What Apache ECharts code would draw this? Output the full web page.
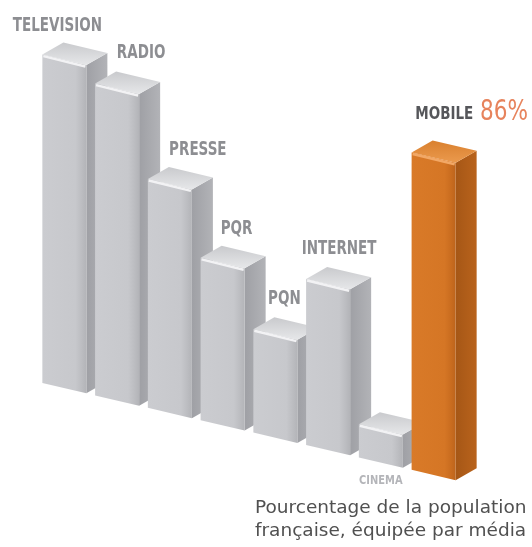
<!DOCTYPE html>
<html>
<head>
<meta charset="utf-8">
<script src="https://cdn.jsdelivr.net/npm/echarts@6/dist/echarts.min.js"></script>
<style>
html,body{margin:0;padding:0;background:#fff;}
#chart{width:532px;height:547px;}
</style>
</head>
<body>
<div id="chart"></div>
<script>
// ---- data ----
const categories = ['TELEVISION', 'RADIO', 'PRESSE', 'PQR', 'PQN', 'INTERNET', 'CINEMA', 'MOBILE'];
const values = [89, 84.5, 62, 44, 28, 45, 9, 86];
const valueLabels = ['', '', '', '', '', '', '', '86%'];
const highlighted = 'MOBILE';
const captionLines = ['Pourcentage de la population', 'française, équipée par média'];

// ---- layout / style (not data) ----
const SLOPE = 0.235;           // perspective slant of the floor
const DEPTH = [21, -12];       // depth vector of the 3D boxes
const FRONT_RATIO = 0.835;
// label anchor offsets relative to front-top-left corner (or base for 'below')
const labelNudge = [[15, -29], [46, -31], [50, -29], [36, -29], [31, -30], [33, -30], [22, 23, 'below'], [60, -40]];

const G = echarts.graphic;
const grayStyle = {
  front: new G.LinearGradient(0, 0, 1, 0, [
    {offset: 0, color: '#cbccd0'}, {offset: 0.75, color: '#c7c8cc'}, {offset: 0.88, color: '#bdbec2'}, {offset: 1, color: '#b3b4b8'}]),
  side: new G.LinearGradient(0, 0, 1, 0, [
    {offset: 0, color: '#9fa0a5'}, {offset: 1, color: '#b2b3b7'}]),
  top: new G.LinearGradient(0, 1, 0, 0, [
    {offset: 0, color: '#e6e7e9'}, {offset: 1, color: '#c9cacd'}]),
  edge: '#f2f2f4',
  label: '#8d8e92'
};
const orangeStyle = {
  front: new G.LinearGradient(0, 0, 1, 0, [
    {offset: 0, color: '#d97a28'}, {offset: 0.75, color: '#d57625'}, {offset: 0.9, color: '#c96c1f'}, {offset: 1, color: '#bd641c'}]),
  side: new G.LinearGradient(0, 0, 1, 0, [
    {offset: 0, color: '#a65716'}, {offset: 1, color: '#b9631c'}]),
  top: new G.LinearGradient(0, 1, 0, 0, [
    {offset: 0, color: '#eb9a4e'}, {offset: 1, color: '#d9802e'}]),
  edge: '#f2a866',
  label: '#55565a'
};
const labelFont = "'Liberation Sans Narrow', 'DejaVu Sans Condensed', sans-serif";

const chart = echarts.init(document.getElementById('chart'), null, {renderer: 'canvas'});

function renderItem(params, api) {
  const i = api.value(0);
  const v = api.value(1);
  const base = api.coord([i, 0]);
  const top = api.coord([i, v]);
  const band = api.size([1, 0])[0];
  const W = band * FRONT_RATIO;
  const xL = base[0] - W / 2, xR = xL + W;
  const ox = params.coordSys.x;
  const P = (x, y) => [x, y + SLOPE * (x - ox)];
  const yB = base[1], yT = top[1];
  const fLT = P(xL, yT), fRT = P(xR, yT), fRB = P(xR, yB), fLB = P(xL, yB);
  const D = (p) => [p[0] + DEPTH[0], p[1] + DEPTH[1]];
  const st = categories[i] === highlighted ? orangeStyle : grayStyle;

  const children = [
    {type: 'polygon', shape: {points: [fRT, D(fRT), D(fRB), fRB]}, style: {fill: st.side}},
    {type: 'polygon', shape: {points: [fLT, fRT, fRB, fLB]}, style: {fill: st.front}},
    {type: 'polygon', shape: {points: [fLT, D(fLT), D(fRT), fRT]}, style: {fill: st.top}},
    {type: 'polyline', shape: {points: [[fLT[0] + 1, fLT[1] + 1.5], [fRT[0] - 1, fRT[1] + 1.5]]},
      style: {stroke: st.edge, lineWidth: 2.5, fill: null}}
  ];

  const nudge = labelNudge[i];
  let lx, ly;
  if (nudge[2] === 'below') { lx = fLB[0] + nudge[0]; ly = fLB[1] + nudge[1]; }
  else { lx = fLT[0] + nudge[0]; ly = fLT[1] + nudge[1]; }
  const vl = valueLabels[i];
  if (categories[i] === highlighted) {
    children.push({
      type: 'text', x: lx, y: ly, scaleY: 1.2,
      style: {
        text: '{a|' + categories[i] + '}  {b|' + vl + '}',
        align: 'center', verticalAlign: 'middle',
        rich: {
          a: {fontFamily: labelFont, fontWeight: 'bold', fontSize: 15, fill: '#55565a', padding: [3, 0, 0, 0]},
          b: {fontFamily: labelFont, fontSize: 24, fill: '#e7835c'}
        }
      }
    });
  } else {
    const below = nudge[2] === 'below';
    children.push({
      type: 'text', x: lx, y: ly, scaleY: below ? 1.1 : 1.3,
      style: {
        text: categories[i], align: 'center', verticalAlign: 'middle',
        fontFamily: labelFont, fontWeight: 'bold',
        fontSize: below ? 11 : 15,
        fill: below ? '#b4b5b9' : st.label
      }
    });
  }
  return {type: 'group', children};
}

chart.setOption({
  animation: false,
  backgroundColor: '#ffffff',
  grid: {left: 38, top: 13, width: 422, height: 369},
  xAxis: {type: 'category', data: categories, show: false},
  yAxis: {type: 'value', min: 0, max: 100, show: false},
  series: [{
    type: 'custom',
    clip: false,
    renderItem,
    encode: {x: 0, y: 1},
    data: categories.map((c, i) => [i, values[i]])
  }],
  graphic: [{
    type: 'text', left: 255, top: 497,
    style: {
      text: captionLines.join('\n'),
      fontFamily: "'DejaVu Sans', sans-serif", fontSize: 18.5, lineHeight: 23,
      fill: '#505050'
    }
  }]
});
</script>
</body>
</html>
